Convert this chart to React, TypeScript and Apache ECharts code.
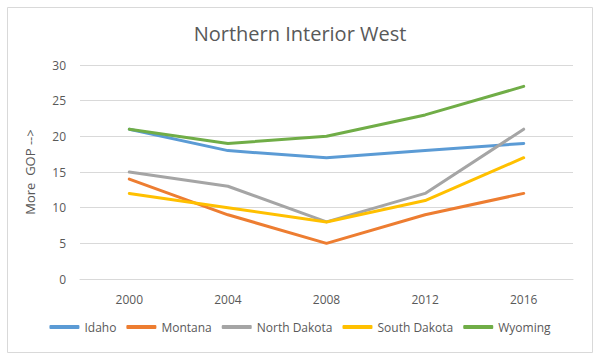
import React, { useEffect, useRef } from "react";
import * as echarts from "echarts";

const years = ["2000", "2004", "2008", "2012", "2016"];
const idaho = [21, 18, 17, 18, 19];
const montana = [14, 9, 5, 9, 12];
const northDakota = [15, 13, 8, 12, 21];
const southDakota = [12, 10, 8, 11, 17];
const wyoming = [21, 19, 20, 23, 27];

const seriesNames = ["Idaho", "Montana", "North Dakota", "South Dakota", "Wyoming"];
const seriesData = [idaho, montana, northDakota, southDakota, wyoming];
const colors = ["#5B9BD5", "#ED7D31", "#A5A5A5", "#FFC000", "#70AD47"];

const FONT = "'Open Sans', 'Noto Sans', sans-serif";

export default function App() {
  const ref = useRef<HTMLDivElement>(null);
  useEffect(() => {
    if (!ref.current) return;
    const chart = echarts.init(ref.current, null, { renderer: "svg" });
    chart.setOption({
      animation: false,
      backgroundColor: "#ffffff",
      color: colors,
      title: {
        text: "Northern Interior West",
        left: "center",
        top: 18,
        textStyle: { fontFamily: FONT, fontSize: 20, fontWeight: "normal", color: "#595959" },
      },
      graphic: [
        {
          type: "rect",
          shape: { x: 7.5, y: 7.5, width: 585, height: 345 },
          style: { fill: "none", stroke: "#D9D9D9", lineWidth: 1 },
          silent: true,
        },
      ],
      grid: { left: 80, right: 27, top: 65, bottom: 79 },
      legend: {
        bottom: 20,
        left: "center",
        icon: "roundRect",
        itemWidth: 30,
        itemHeight: 4,
        itemGap: 10,
        textStyle: { fontFamily: FONT, fontSize: 12, color: "#595959" },
        data: seriesNames,
      },
      xAxis: {
        type: "category",
        data: years,
        boundaryGap: true,
        axisLine: { show: true, lineStyle: { color: "#D9D9D9" } },
        axisTick: { show: false },
        axisLabel: { fontFamily: FONT, fontSize: 12, color: "#595959", margin: 14 },
      },
      yAxis: {
        type: "value",
        min: 0,
        max: 30,
        interval: 5,
        name: "More  GOP -->",
        nameLocation: "middle",
        nameGap: 44,
        nameTextStyle: { fontFamily: FONT, fontSize: 13, color: "#595959" },
        axisLine: { show: false },
        axisTick: { show: false },
        axisLabel: { fontFamily: FONT, fontSize: 12, color: "#595959", margin: 14 },
        splitLine: { lineStyle: { color: "#D9D9D9" } },
      },
      series: seriesNames.map((n, i) => ({
        name: n,
        type: "line",
        data: seriesData[i],
        symbol: "none",
        lineStyle: { width: 3, color: colors[i], cap: "round", join: "round" },
        itemStyle: { color: colors[i] },
      })),
    });
    return () => chart.dispose();
  }, []);
  return (
    <div
      ref={ref}
      style={{ position: "absolute", left: 0, top: 0, width: 600, height: 358 }}
    />
  );
}
